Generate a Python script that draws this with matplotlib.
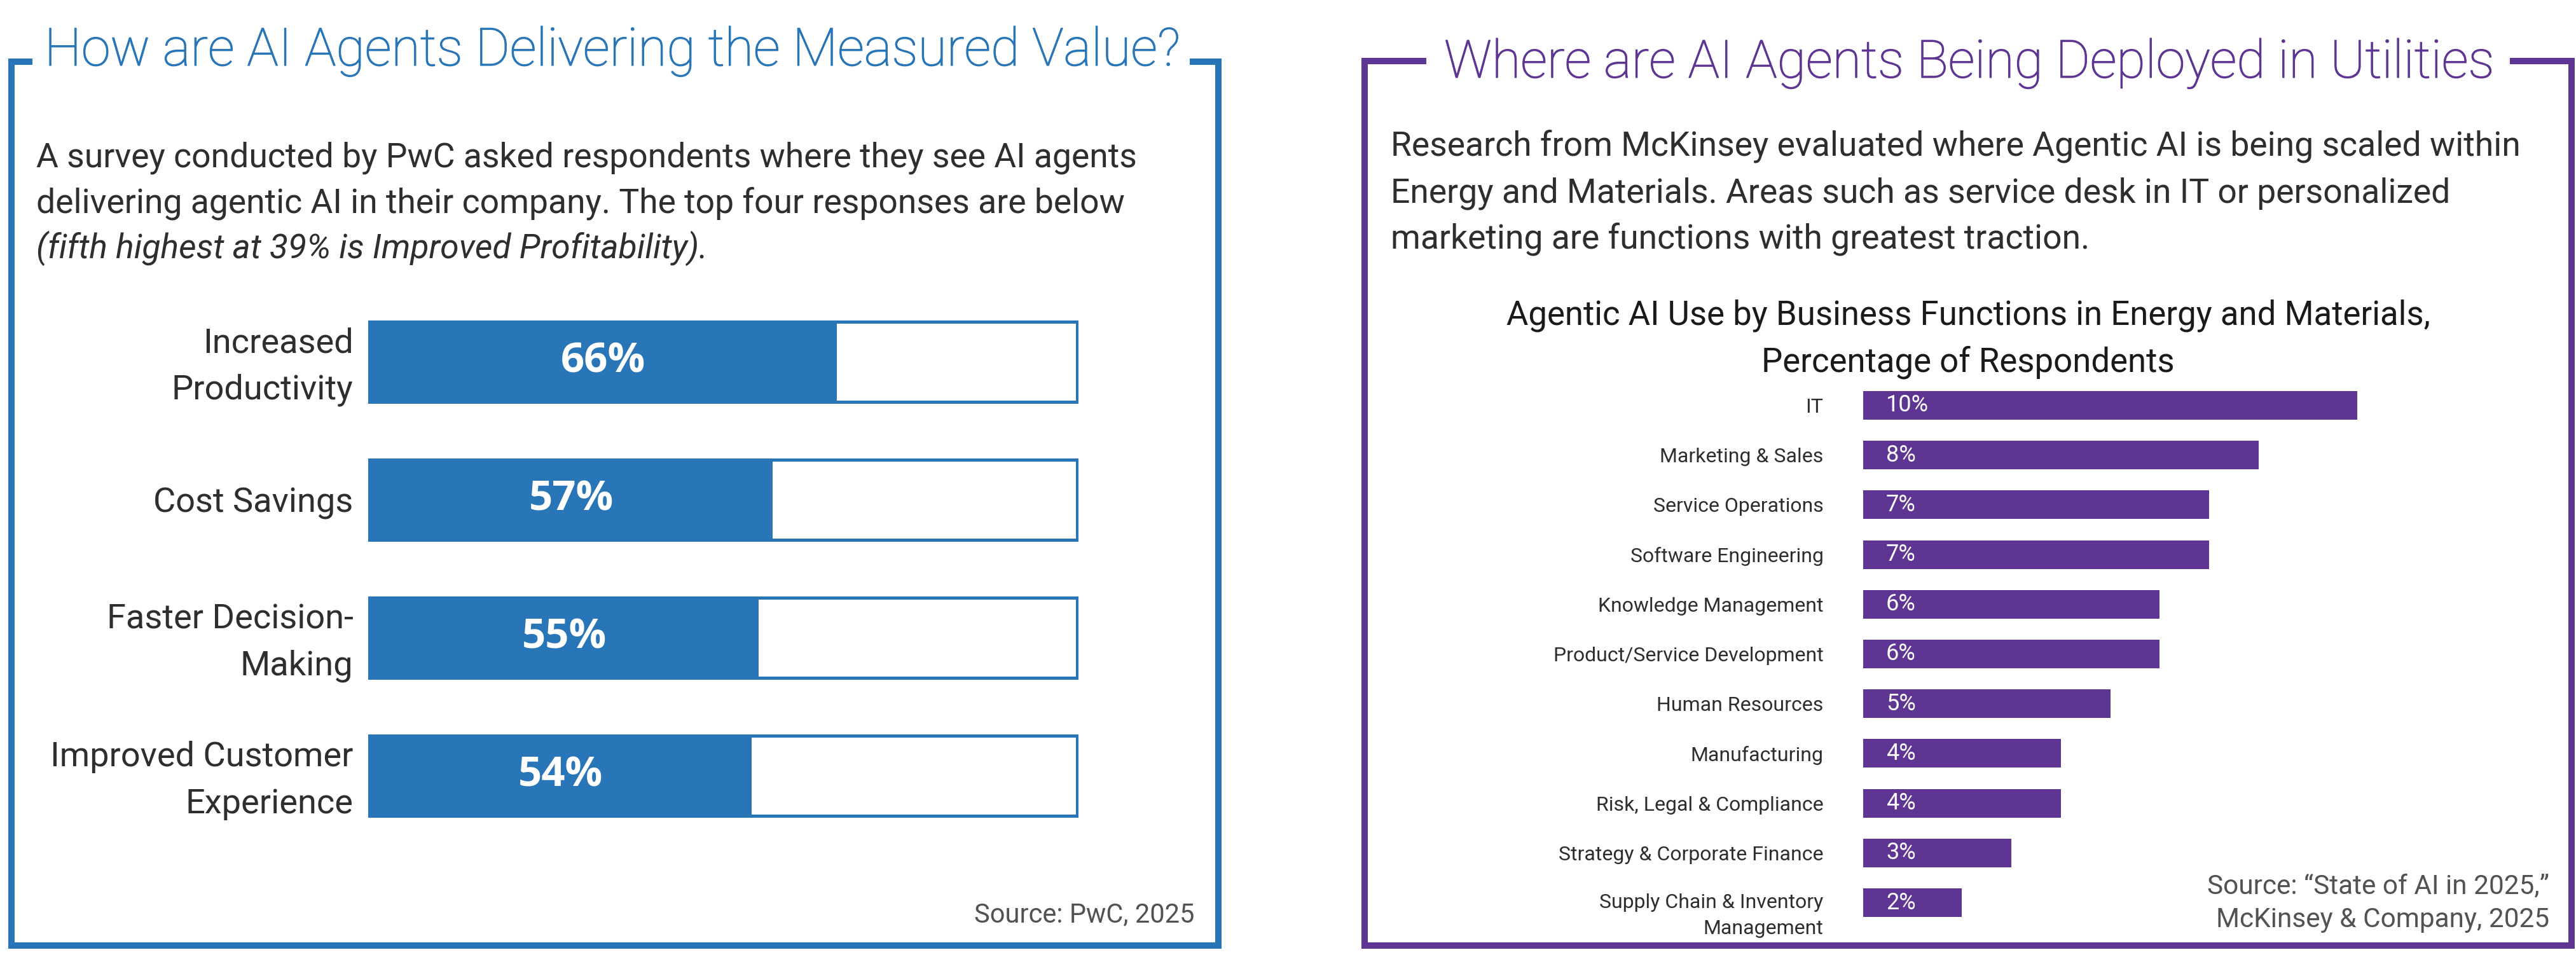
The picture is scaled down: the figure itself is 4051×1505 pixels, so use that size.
import matplotlib
matplotlib.use("Agg")
import matplotlib.pyplot as plt
from matplotlib.lines import Line2D
import matplotlib.transforms as mtransforms
import matplotlib.patheffects as pe

# ---------------- data ----------------
left_categories = ["Increased\nProductivity", "Cost Savings", "Faster Decision-\nMaking",
                   "Improved Customer\nExperience"]
left_values = [66, 57, 55, 54]
left_labels = ["66%", "57%", "55%", "54%"]

right_categories = ["IT", "Marketing & Sales", "Service Operations", "Software Engineering",
                    "Knowledge Management", "Product/Service Development", "Human Resources",
                    "Manufacturing", "Risk, Legal & Compliance", "Strategy & Corporate Finance",
                    "Supply Chain & Inventory\nManagement"]
right_values = [10, 8, 7, 7, 6, 6, 5, 4, 4, 3, 2]
right_labels = ["10%", "8%", "7%", "7%", "6%", "6%", "5%", "4%", "4%", "3%", "2%"]

left_title = "How are AI Agents Delivering the Measured Value?"
right_title = "Where are AI Agents Being Deployed in Utilities"
left_body = ["A survey conducted by PwC asked respondents where they see AI agents",
             "delivering agentic AI in their company. The top four responses are below",
             "(fifth highest at 39% is Improved Profitability)."]
right_body = ["Research from McKinsey evaluated where Agentic AI is being scaled within",
              "Energy and Materials. Areas such as service desk in IT or personalized",
              "marketing are functions with greatest traction."]
chart_title = ["Agentic AI Use by Business Functions in Energy and Materials,",
               "Percentage of Respondents"]
left_source = "Source: PwC, 2025"
right_source = ["Source: \u201cState of AI in 2025,\u201d", "McKinsey & Company, 2025"]

# ---------------- style ----------------
BLUE = "#2876B7"
PURPLE = "#5E3592"
TEXT = "#2e2e2e"
GRAY = "#525252"
FONT = ["Roboto", "DejaVu Sans"]
plt.rcParams["font.family"] = FONT

W, H = 4051, 1505
fig = plt.figure(figsize=(W / 100, H / 100), dpi=100)
fig.patch.set_facecolor("white")


def fx(x):
    return x / W


def fy(y):
    return 1 - y / H


def ftext(x, y, s, **kw):
    return fig.text(fx(x), fy(y), s, va="baseline", **kw)


# ---------------- frames ----------------
def frame(pts, color):
    xs = [fx(p[0]) for p in pts]
    ys = [fy(p[1]) for p in pts]
    fig.add_artist(Line2D(xs, ys, color=color, lw=7.2, solid_joinstyle="miter",
                          solid_capstyle="butt"))


frame([(51, 97), (18, 97), (18, 1487), (1916, 1487), (1916, 97), (1871, 97)], BLUE)
frame([(2243, 96), (2146, 96), (2146, 1487), (4044, 1487), (4044, 96), (3947, 96)], PURPLE)

# ---------------- titles / text ----------------
t1 = ftext(963, 103, left_title, ha="center", fontsize=59.5, color=BLUE, fontweight="light")
t1.set_path_effects([pe.withStroke(linewidth=0.9, foreground=BLUE)])
t2 = ftext(3097, 122, right_title, ha="center", fontsize=59.5, color=PURPLE, fontweight="light")
t2.set_path_effects([pe.withStroke(linewidth=0.9, foreground=PURPLE)])

for i, line in enumerate(left_body):
    ftext(57, 262 + 72 * i, line, ha="left", fontsize=38.5, color=TEXT,
          style="italic" if i == 2 else "normal")
for i, line in enumerate(right_body):
    ftext(2187, 245 + 73 * i, line, ha="left", fontsize=38.5, color=TEXT)
for i, line in enumerate(chart_title):
    ftext(3095, 511 + 73 * i, line, ha="center", fontsize=38, color="#1a1a1a")

ftext(1878, 1450, left_source, ha="right", fontsize=30, color=GRAY)
ftext(4009, 1405, right_source[0], ha="right", fontsize=30.5, color=GRAY)
ftext(4009, 1458, right_source[1], ha="right", fontsize=30.5, color=GRAY)

# ---------------- left chart ----------------
l_top, l_bot, l_left, l_right = 460.5, 1328.5, 579, 1696
ax1 = fig.add_axes([fx(l_left), fy(l_bot), fx(l_right) - fx(l_left), fy(l_top) - fy(l_bot)])
n1 = len(left_values)
pos1 = list(range(n1))
ax1.barh(pos1, [100] * n1, height=0.58, left=0, color="white", edgecolor=BLUE,
         linewidth=3.6)
ax1.barh(pos1, left_values, height=0.58, left=0, color=BLUE, edgecolor=BLUE, linewidth=0)
for p, v, lab in zip(pos1, left_values, left_labels):
    ax1.text(v / 2, p, lab, ha="center", va="center", color="white", fontsize=47,
             fontweight="bold", family=["Open Sans", "DejaVu Sans"])
ax1.set_xlim(-0.2, 100.2)
ax1.set_ylim(n1 - 0.5, -0.5)
ax1.set_yticks(pos1)
ax1.set_yticklabels(left_categories, fontsize=39, color=TEXT, linespacing=1.55)
ax1.tick_params(axis="y", length=0, pad=17)
ax1.set_xticks([])
for s in ax1.spines.values():
    s.set_visible(False)
ax1.patch.set_alpha(0)
for lbl in ax1.get_yticklabels():
    if "\n" in lbl.get_text():
        lbl.set_transform(lbl.get_transform() +
                          mtransforms.ScaledTranslation(0, 9 / 100, fig.dpi_scale_trans))

# ---------------- right chart ----------------
step = 78.2
r_top = 637.5 - step / 2
r_bot = 637.5 + step * 10 + step / 2
r_left = 2930
r_right = r_left + 12 * 77.7
ax2 = fig.add_axes([fx(r_left), fy(r_bot), fx(r_right) - fx(r_left), fy(r_top) - fy(r_bot)])
n2 = len(right_values)
pos2 = list(range(n2))
ax2.barh(pos2, right_values, height=0.575, color=PURPLE)
for p, v, lab in zip(pos2, right_values, right_labels):
    ax2.annotate(lab, xy=(0, p), xytext=(26, 0), textcoords="offset points",
                 ha="left", va="center", color="white", fontsize=26)
ax2.set_xlim(0, 12)
ax2.set_ylim(n2 - 0.5, -0.5)
ax2.set_yticks(pos2)
ax2.set_yticklabels(right_categories, fontsize=23, color=TEXT, linespacing=1.5)
ax2.tick_params(axis="y", length=0, pad=45)
ax2.set_xticks([])
for s in ax2.spines.values():
    s.set_visible(False)
ax2.patch.set_alpha(0)
# two-line last label: first line aligned with bar
last = ax2.get_yticklabels()[-1]
last.set_transform(last.get_transform() +
                   mtransforms.ScaledTranslation(0, -12 / 100, fig.dpi_scale_trans))

fig.savefig("out.png", dpi=100, facecolor="white")
